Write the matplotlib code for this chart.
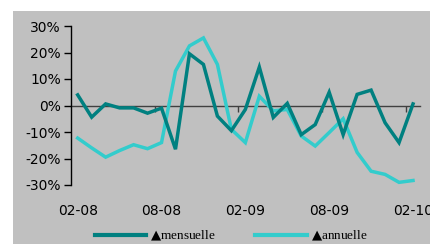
import matplotlib
matplotlib.use("Agg")
import matplotlib.pyplot as plt
from matplotlib.patches import Rectangle

months = ["02-08", "03-08", "04-08", "05-08", "06-08", "07-08", "08-08", "09-08",
          "10-08", "11-08", "12-08", "01-09", "02-09", "03-09", "04-09", "05-09",
          "06-09", "07-09", "08-09", "09-09", "10-09", "11-09", "12-09", "01-10", "02-10"]
mensuelle = [4, -4.4, 0.6, -0.9, -0.9, -2.9, -1, -16.5, 19.5, 15.5, -4, -9.5, -1.5,
             14.5, -4.5, 0.8, -11, -7.2, 5, -11, 4.2, 5.8, -6.5, -14, 0.6]
annuelle = [-12.3, -16, -19.5, -17, -14.8, -16.3, -14, 13, 22.5, 25.5, 15.5, -9, -14,
            3.5, -2, -1.5, -11.5, -15.3, -10.2, -5, -17.7, -24.8, -26, -29, -28.3]
tick_labels = ["02-08", "08-08", "02-09", "08-09", "02-10"]
yticks = [-30, -20, -10, 0, 10, 20, 30]

c_m = "#008080"
c_a = "#33CCCC"
bg = "#C0C0C0"

plt.rcParams["mathtext.fontset"] = "dejavusans"

fig = plt.figure(figsize=(4.30, 2.44), dpi=100)
fig.patch.set_facecolor("white")
fig.patches.append(Rectangle((13 / 430, 0), 1 - 13 / 430, (244 - 11) / 244,
                             transform=fig.transFigure, facecolor=bg,
                             edgecolor="none", zorder=-10))

ax = fig.add_axes([70.7 / 430, (244 - 185) / 244, (420 - 70.7) / 430, (185 - 26) / 244])
ax.set_facecolor("none")

x = list(range(len(months)))
l1, = ax.plot(x, mensuelle, color=c_m, lw=2.5, solid_joinstyle="miter", zorder=3)
l2, = ax.plot(x, annuelle, color=c_a, lw=2.5, solid_joinstyle="miter", zorder=2)

ax.set_xlim(-0.5, len(months) - 0.5)
ax.set_ylim(-30, 30)

for s in ["top", "right"]:
    ax.spines[s].set_visible(False)
ax.spines["left"].set_color("black")
ax.spines["left"].set_linewidth(1.0)
ax.spines["bottom"].set_position(("data", 0))
ax.spines["bottom"].set_color("#404040")
ax.spines["bottom"].set_linewidth(1.0)
ax.spines["bottom"].set_zorder(1)

ax.set_yticks(yticks)
ax.set_yticklabels([f"{v}%" for v in yticks], fontsize=10, family="DejaVu Sans")
ax.tick_params(axis="y", direction="out", length=5, width=1, color="black", pad=2)

ax.set_xticks([5.5, 11.5, 17.5, 23.5])
ax.set_xticklabels([])
ax.tick_params(axis="x", direction="out", length=4, width=1, color="#404040")

sec = ax.secondary_xaxis(0)
sec.set_xticks([months.index(t) for t in tick_labels])
sec.set_xticklabels(tick_labels, fontsize=10, family="DejaVu Sans")
sec.tick_params(length=0, pad=14)
sec.spines["bottom"].set_visible(False)

leg = fig.legend([l1, l2], ["$\u25B2$mensuelle", "$\u25B2$annuelle"], loc="center",
                 bbox_to_anchor=(231 / 430, 8 / 244), ncol=2, frameon=False,
                 handlelength=3.9, handletextpad=0.3, columnspacing=3.0,
                 prop={"family": ["Liberation Serif", "DejaVu Sans"], "size": 9.5},
                 borderpad=0, borderaxespad=0)
for h in leg.get_lines():
    h.set_linewidth(3)

fig.savefig("out.png", dpi=100, facecolor=fig.get_facecolor())
